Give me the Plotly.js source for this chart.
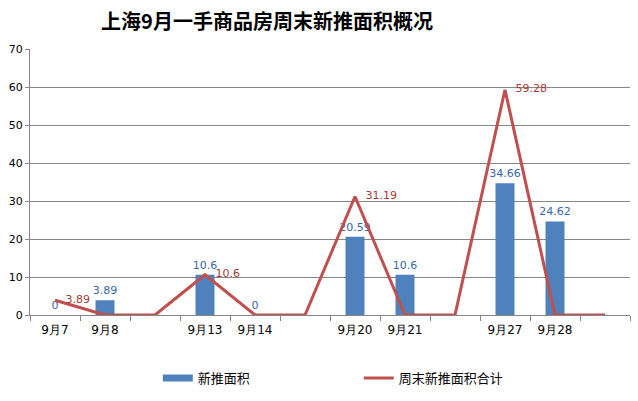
<!DOCTYPE html>
<html><head><meta charset="utf-8">
<script src="https://cdn.plot.ly/plotly-3.0.1.min.js"></script>
<style>html,body{margin:0;padding:0;background:#fff}#chart{width:638px;height:401px}</style>
</head><body><div id="chart"></div>
<script>
var categories = ['9月7','9月8',' ','9月13','9月14','  ','9月20','9月21','   ','9月27','9月28','    '];
var newArea = [0, 3.89, null, 10.6, 0, null, 20.59, 10.6, null, 34.66, 24.62, null];
var weekendTotal = [3.89, 0, 0, 10.6, 0, 0, 31.19, 0, 0, 59.28, 0, 0];
var seriesNames = ['新推面积', '周末新推面积合计'];
var titleText = '上海9月一手商品房周末新推面积概况';

var barText = newArea.map(function(v){ return v === null ? '' : String(v); });
var lineText = weekendTotal.map(function(v){ return v > 0 ? '   ' + String(v) : ''; });

var data = [
  {type:'bar', x:categories, y:newArea, name:seriesNames[0], width:0.38, showlegend:false,
   marker:{color:'#4F81BD'}, text:barText, textposition:'outside', cliponaxis:false,
   constraintext:'none', textangle:0,
   textfont:{family:'DejaVu Sans', size:11, color:'#3767A8'}, hoverinfo:'none'},
  {type:'scatter', mode:'lines', x:[null], y:[null], name:seriesNames[0],
   line:{color:'#4F81BD', width:7}, hoverinfo:'none'},
  {type:'scatter', mode:'lines+text', x:categories, y:weekendTotal, name:seriesNames[1],
   line:{color:'#C0504D', width:3}, text:lineText, textposition:'middle right', cliponaxis:false,
   textfont:{family:'DejaVu Sans', size:11, color:'#A63A37'}, hoverinfo:'none'}
];
var layout = {
  width:638, height:401,
  margin:{l:30, r:8, t:49, b:86},
  paper_bgcolor:'#fff', plot_bgcolor:'#fff',
  title:{text:'<b>'+titleText+'</b>', x:267/638, xanchor:'center', y:0.945, yanchor:'middle',
    font:{family:'Noto Sans CJK SC', size:20, color:'#000'}},
  showlegend:true,
  legend:{orientation:'h', x:0.213, y:-0.237, xanchor:'left', yanchor:'middle',
    font:{family:'Noto Sans CJK SC', size:13, color:'#000'}, entrywidth:156, entrywidthmode:'pixels',
    itemwidth:30, tracegroupgap:0},
  xaxis:{type:'category', range:[-0.5, 11.5], showgrid:false, showline:true, linecolor:'#868686', linewidth:1,
    ticks:'outside', tickson:'boundaries', ticklen:5, tickcolor:'#868686', ticklabelstandoff:4,
    tickfont:{family:'DejaVu Sans', size:12, color:'#000'}, zeroline:false, fixedrange:true},
  yaxis:{range:[0,70], dtick:10, showgrid:true, gridcolor:'#868686', gridwidth:1,
    showline:true, linecolor:'#868686', linewidth:1, ticks:'outside', ticklen:4, tickcolor:'#868686',
    tickfont:{family:'DejaVu Sans', size:11, color:'#000'}, zeroline:false, fixedrange:true},
  bargap:0.62
};
Plotly.newPlot('chart', data, layout, {staticPlot:true, displayModeBar:false});
</script></body></html>
